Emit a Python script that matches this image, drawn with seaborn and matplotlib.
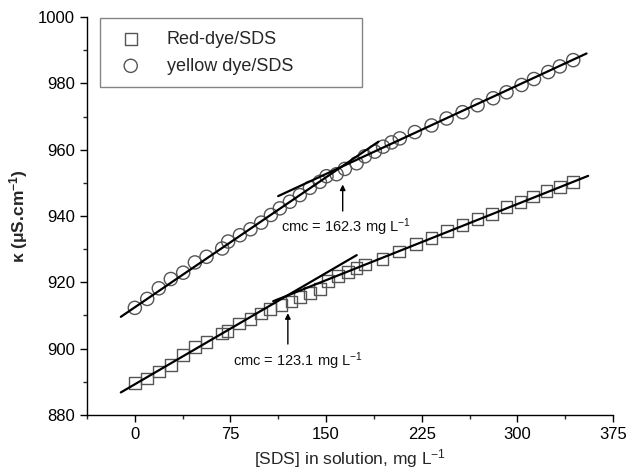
import matplotlib
matplotlib.use("Agg")
import matplotlib.pyplot as plt
from matplotlib.ticker import MultipleLocator
import seaborn as sns
import pandas as pd

# ---- data ----
red_x = [0, 9.7, 18.8, 28.2, 37.9, 47.0, 56.2, 68.5, 72.7, 81.6, 90.7, 99.1, 105.9,
         115.0, 122.9, 129.4, 137.3, 145.1, 151.6, 159.5, 167.3, 173.9, 180.4, 194.2,
         207.3, 220.4, 232.6, 244.5, 257.0, 268.8, 280.2, 291.5, 302.5, 312.4, 322.9,
         333.3, 343.8]
red_y = [889.6, 891.0, 893.1, 895.1, 898.0, 900.4, 902.1, 904.6, 905.4, 907.6, 908.9,
         910.6, 912.0, 913.1, 914.2, 915.6, 916.9, 918.0, 920.4, 921.8, 923.2, 924.4,
         925.4, 927.0, 929.3, 931.6, 933.3, 935.4, 937.3, 939.2, 940.6, 942.6, 944.2,
         945.9, 947.6, 948.8, 950.3]
yellow_x = [0, 9.7, 18.8, 28.2, 37.9, 47.1, 56.2, 68.5, 73.2, 82.4, 90.7, 99.1, 106.7,
            113.7, 121.6, 129.4, 137.3, 145.1, 150.3, 158.2, 164.7, 173.9, 180.4, 188.2,
            194.7, 201.3, 207.8, 219.6, 232.7, 244.5, 257.0, 268.8, 281.0, 291.5, 303.3,
            313.0, 324.2, 333.3, 343.8]
yellow_y = [912.3, 915.0, 918.2, 921.0, 922.9, 926.0, 927.7, 930.2, 932.3, 934.2, 936.0,
            938.0, 940.3, 942.3, 944.3, 946.3, 948.5, 950.3, 952.0, 952.6, 954.2, 955.9,
            958.0, 959.4, 960.9, 962.2, 963.4, 965.3, 967.3, 969.4, 971.3, 973.4, 975.5,
            977.3, 979.5, 981.3, 983.4, 985.1, 987.0]

# fitted straight lines (end points)
red_pre_x, red_pre_y = [-11, 174], [886.8, 928.2]
red_post_x, red_post_y = [108.5, 355.5], [914.3, 952.1]
yellow_pre_x, yellow_pre_y = [-11, 191], [909.6, 962.4]
yellow_post_x, yellow_post_y = [112.4, 354.2], [946.0, 989.0]

series_names = ["Red-dye/SDS", "yellow dye/SDS"]
cmc_labels = ["cmc = 123.1 mg L$^{-1}$", "cmc = 162.3 mg L$^{-1}$"]
cmc_arrow_x = [120.0, 163.0]
cmc_arrow_tail = [901.4, 941.5]
cmc_arrow_head = [910.7, 949.5]
cmc_text_x = [77.0, 115.0]
cmc_text_y = [896.3, 936.7]

x_ticks = [0, 75, 150, 225, 300, 375]
y_ticks = [880, 900, 920, 940, 960, 980, 1000]

# ---- styling ----
sns.set_style("ticks")
plt.rcParams["font.family"] = ["Liberation Sans", "DejaVu Sans"]
plt.rcParams["mathtext.fontset"] = "custom"
plt.rcParams["mathtext.rm"] = "Liberation Sans"
plt.rcParams["mathtext.it"] = "Liberation Sans:italic"
plt.rcParams["mathtext.bf"] = "Liberation Sans:bold"

fig = plt.figure(figsize=(6.27, 4.74), dpi=100)
ax = fig.add_axes([0.1388, 0.1245, 0.8389, 0.8396])

df_red = pd.DataFrame({"x": red_x, "y": red_y})
df_yel = pd.DataFrame({"x": yellow_x, "y": yellow_y})

line_kw = dict(color="black", linewidth=1.6, zorder=3)
for lx, ly in [(red_pre_x, red_pre_y), (red_post_x, red_post_y),
               (yellow_pre_x, yellow_pre_y), (yellow_post_x, yellow_post_y)]:
    sns.lineplot(x=lx, y=ly, ax=ax, **line_kw)

sns.scatterplot(data=df_red, x="x", y="y", ax=ax, marker="s", s=72,
                facecolor="none", edgecolor="#555555", linewidth=1.0,
                label=series_names[0], zorder=2)
sns.scatterplot(data=df_yel, x="x", y="y", ax=ax, marker="o", s=90,
                facecolor="none", edgecolor="#555555", linewidth=1.0,
                label=series_names[1], zorder=2)

for lab, ax_x, t0, t1, tx, ty in zip(cmc_labels, cmc_arrow_x, cmc_arrow_tail,
                                      cmc_arrow_head, cmc_text_x, cmc_text_y):
    ax.annotate("", xy=(ax_x, t1), xytext=(ax_x, t0),
                arrowprops=dict(arrowstyle="-|>", color="black", lw=1.0,
                                mutation_scale=8, shrinkA=0, shrinkB=0))
    ax.text(tx, ty, lab, fontsize=10.5, ha="left", va="center", color="#111111")

ax.set_xlim(-37.5, 375)
ax.set_ylim(880, 1000)
ax.set_xticks(x_ticks)
ax.set_yticks(y_ticks)
ax.xaxis.set_minor_locator(MultipleLocator(37.5))
ax.yaxis.set_minor_locator(MultipleLocator(10))
ax.tick_params(axis="both", which="major", direction="out", length=5, width=1,
               labelsize=12, colors="black")
ax.tick_params(axis="both", which="minor", direction="out", length=3, width=1)
for sp in ["top", "right"]:
    ax.spines[sp].set_visible(False)
for sp in ["left", "bottom"]:
    ax.spines[sp].set_linewidth(1.0)
    ax.spines[sp].set_color("black")

ax.set_xlabel("[SDS] in solution, mg L$^{-1}$", fontsize=12.5, labelpad=4)
ax.set_ylabel("κ (μS.cm$^{\\mathbf{-1}}$)", fontsize=12.5, fontweight="bold", labelpad=6)

leg = ax.legend(loc="upper left", bbox_to_anchor=(0.0247, 0.824, 0.498, 0.1735),
                mode="expand", borderaxespad=0, frameon=True, fancybox=False,
                fontsize=13, handletextpad=1.0, borderpad=0.7, labelspacing=0.55,
                handlelength=2.0)
leg.get_frame().set_edgecolor("#666666")
leg.get_frame().set_linewidth(1.0)

fig.savefig("out.png", dpi=100)
